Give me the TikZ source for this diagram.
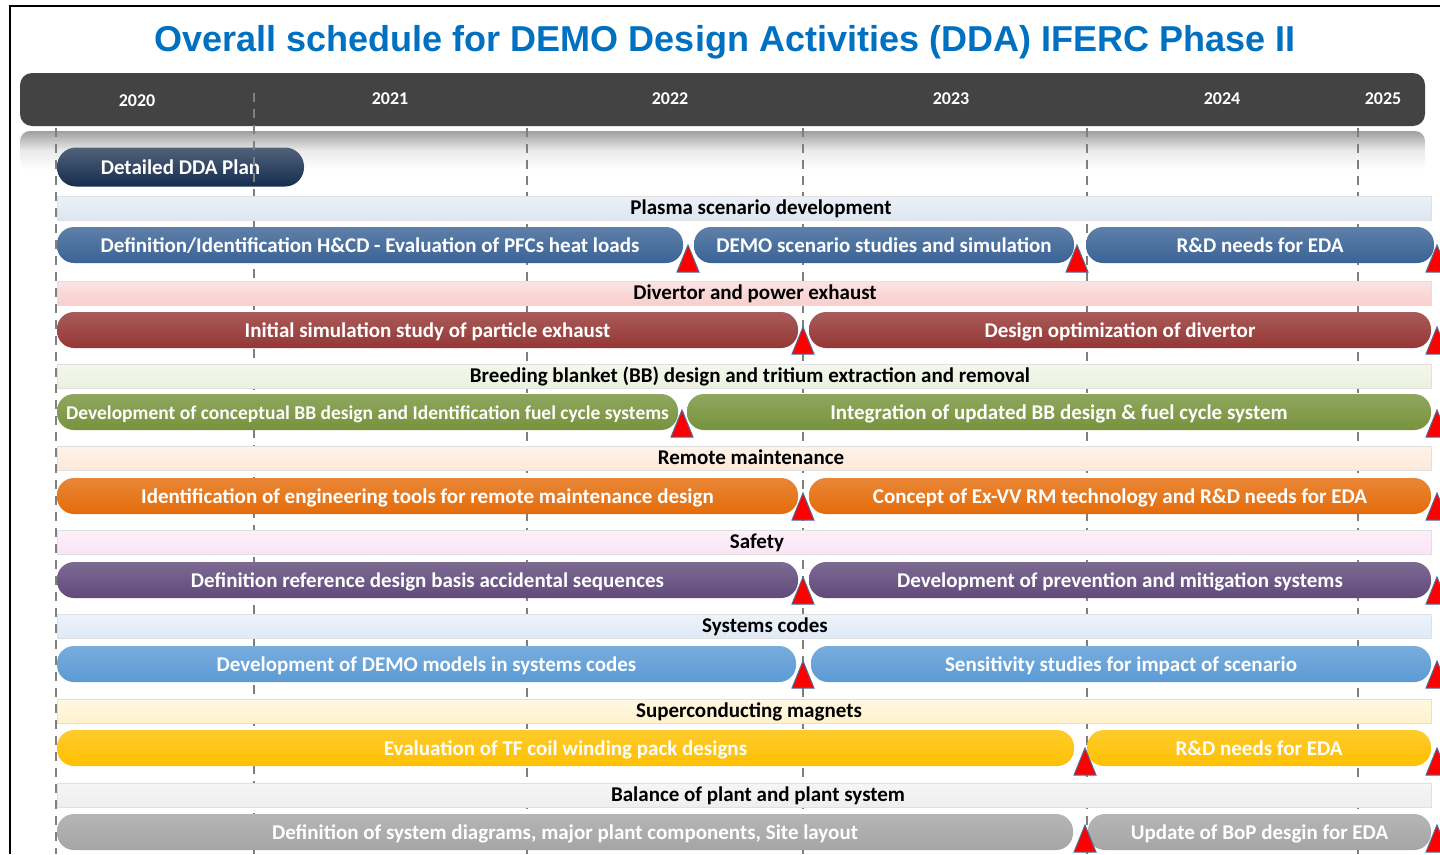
\documentclass[tikz,border=0pt]{standalone}
\usepackage{fontspec}
\setmainfont{Carlito}
\newfontfamily\titlefont{Liberation Sans}

\definecolor{titleblue}{HTML}{0070C0}
\definecolor{barcol}{HTML}{434343}
\definecolor{gridgray}{HTML}{7F7F7F}
\definecolor{msedge}{HTML}{4F6D9A}
\definecolor{ddanavy}{HTML}{162D4E}
\definecolor{pblue}{HTML}{3A6396}
\definecolor{pband}{HTML}{DCE6F2}
\definecolor{dred}{HTML}{953735}
\definecolor{dband}{HTML}{F8CDCD}
\definecolor{bbgreen}{HTML}{77933C}
\definecolor{bband}{HTML}{EBF1DE}
\definecolor{rmorange}{HTML}{E46C0A}
\definecolor{rband}{HTML}{FDE9D9}
\definecolor{sfpurple}{HTML}{604A7B}
\definecolor{sband}{HTML}{FBE4F5}
\definecolor{codeblue}{HTML}{5B9BD5}
\definecolor{cband}{HTML}{DEEAF6}
\definecolor{mgyellow}{HTML}{FFC000}
\definecolor{mband}{HTML}{FFF2CC}
\definecolor{bopgray}{HTML}{A5A5A5}
\definecolor{oband}{HTML}{EEEEEE}

% one activity bar: name, colour, left x, right x, centre y, text
\newcommand\activity[6]{%
  \node[pill, top color=#2!82!white, bottom color=#2,
        minimum width={(#4-#3)*1pt}] (#1) at ({(#3+#4)/2},#5) {#6};}
% one work-package header band: name, colour, centre y
\newcommand\wpband[3]{%
  \node[band, top color=#2!55!white, bottom color=#2] (#1) at (744,#3) {};}

\begin{document}
\begin{tikzpicture}[x=1pt,y=-1pt,
  pill/.style={rounded corners=17pt, minimum height=36pt, inner sep=0pt,
    text height=18pt, text depth=4pt,
    text=white, font=\bfseries\fontsize{21}{24}\selectfont},
  band/.style={minimum width=1374pt, minimum height=24pt, inner sep=0pt,
    draw=black!12, line width=0.6pt},
  bandlabel/.style={inner sep=0pt, text=black, text height=17pt, text depth=5pt,
    font=\bfseries\fontsize{21}{24}\selectfont},
  yearlabel/.style={inner sep=0pt, text=white,
    font=\bfseries\fontsize{18}{20}\selectfont},
  gridline/.style={draw=gridgray, line width=1.6pt, dash pattern=on 9pt off 7pt},
  milestone/.pic={\filldraw[fill=red, draw=msedge, line width=1pt]
    (-11,27) -- (0,0) -- (11,27) -- cycle;}]

\useasboundingbox (0,0) rectangle (1440,854);
\fill[white] (0,0) rectangle (1440,854);

% frame
\draw[black, line width=2pt] (10,854) -- (10,6) -- (1441,6);

% title
\node[inner sep=0pt, text=titleblue, font=\titlefont\bfseries\fontsize{36}{40}\selectfont]
  (title) at (725,42) {Overall schedule for DEMO Design Activities (DDA) IFERC Phase II};

% time axis
\fill[barcol, rounded corners=12pt] (20,73) rectangle (1425,126);
\shade[top color=black!38, bottom color=white, middle color=black!8, rounded corners=10pt]
  (20,131) rectangle (1425,170);
\node[yearlabel] (y2020) at (137,101) {2020};
\node[yearlabel] (y2021) at (390,99) {2021};
\node[yearlabel] (y2022) at (670,99) {2022};
\node[yearlabel] (y2023) at (951,99) {2023};
\node[yearlabel] (y2024) at (1222,99) {2024};
\node[yearlabel] (y2025) at (1383,99) {2025};

% first milestone block
\node[pill, rounded corners=19pt, minimum height=39pt, minimum width=247pt,
      top color=ddanavy!75!white, bottom color=ddanavy] (dda) at (180.5,167) {Detailed DDA Plan};

% year grid
\draw[gridline] (56,128) -- (56,854);
\draw[gridline] (254,93) -- (254,854);
\draw[gridline] (527,128) -- (527,854);
\draw[gridline] (803,128) -- (803,854);
\draw[gridline] (1087,128) -- (1087,854);
\draw[gridline] (1358,128) -- (1358,854);

% work-package header bands
\wpband{bandP}{pband}{208}
\wpband{bandD}{dband}{293}
\wpband{bandB}{bband}{376}
\wpband{bandR}{rband}{458}
\wpband{bandS}{sband}{542}
\wpband{bandC}{cband}{626}
\wpband{bandM}{mband}{711}
\wpband{bandO}{oband}{795}

\node[bandlabel] (labP) at (761,208) {Plasma scenario development};
\node[bandlabel] (labD) at (755,293) {Divertor and power exhaust};
\node[bandlabel] (labB) at (750,376) {Breeding blanket (BB) design and tritium extraction and removal};
\node[bandlabel] (labR) at (751,458) {Remote maintenance};
\node[bandlabel] (labS) at (757,542) {Safety};
\node[bandlabel] (labC) at (765,626) {Systems codes};
\node[bandlabel] (labM) at (749,711) {Superconducting magnets};
\node[bandlabel] (labO) at (758,795) {Balance of plant and plant system};

% activities
\activity{p1}{pblue}{57}{683}{245}{Definition/Identification H\&CD - Evaluation of PFCs heat loads}
\activity{p2}{pblue}{694}{1074}{245}{DEMO scenario studies and simulation}
\activity{p3}{pblue}{1086}{1434}{245}{R\&D needs for EDA}

\activity{d1}{dred}{57}{798}{330}{Initial simulation study of particle exhaust}
\activity{d2}{dred}{809}{1431}{330}{Design optimization of divertor}

\activity{b1}{bbgreen}{57}{678}{412}{\fontsize{19.5}{22}\selectfont Development of conceptual BB design and Identification fuel cycle systems}
\activity{b2}{bbgreen}{687}{1431}{412}{Integration of updated BB design \& fuel cycle system}

\activity{r1}{rmorange}{57}{798}{496}{Identification of engineering tools for remote maintenance design}
\activity{r2}{rmorange}{809}{1431}{496}{Concept of Ex-VV RM technology and R\&D needs for EDA}

\activity{s1}{sfpurple}{57}{798}{580}{Definition reference design basis accidental sequences}
\activity{s2}{sfpurple}{809}{1431}{580}{Development of prevention and mitigation systems}

\activity{c1}{codeblue}{57}{796}{664}{Development of DEMO models in systems codes}
\activity{c2}{codeblue}{811}{1431}{664}{Sensitivity studies for impact of scenario}

\activity{m1}{mgyellow}{57}{1074}{748}{Evaluation of TF coil winding pack designs}
\activity{m2}{mgyellow}{1087}{1431}{748}{R\&D needs for EDA}

\activity{o1}{bopgray}{57}{1073}{832}{Definition of system diagrams, major plant components, Site layout}
\activity{o2}{bopgray}{1088}{1431}{832}{Update of BoP desgin for EDA}

% milestones
\pic (msP1) at (688,245) {milestone};
\pic (msP2) at (1077,245) {milestone};
\pic (msP3) at (1437,245) {milestone};
\pic (msD1) at (803,327) {milestone};
\pic (msD2) at (1437,327) {milestone};
\pic (msB1) at (682,410) {milestone};
\pic (msB2) at (1437,410) {milestone};
\pic (msR1) at (803,493) {milestone};
\pic (msR2) at (1437,493) {milestone};
\pic (msS1) at (803,577) {milestone};
\pic (msS2) at (1437,577) {milestone};
\pic (msC1) at (803,661) {milestone};
\pic (msC2) at (1437,661) {milestone};
\pic (msM1) at (1085,748) {milestone};
\pic (msM2) at (1437,748) {milestone};
\pic (msO1) at (1085,825) {milestone};
\pic (msO2) at (1437,825) {milestone};
\end{tikzpicture}
\end{document}
